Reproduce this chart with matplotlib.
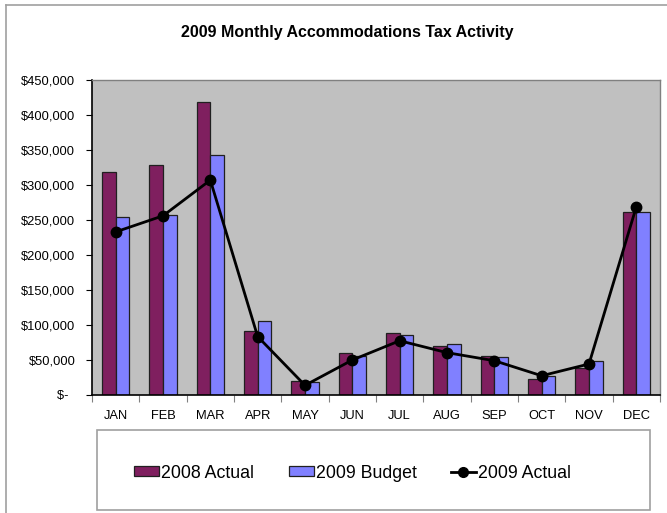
import matplotlib
matplotlib.use("Agg")
import matplotlib.pyplot as plt
import numpy as np
from matplotlib.patches import Rectangle, Patch
from matplotlib.lines import Line2D
from matplotlib.ticker import FuncFormatter, FixedLocator

plt.rcParams['font.family'] = ['Liberation Sans', 'DejaVu Sans']

months = ["JAN", "FEB", "MAR", "APR", "MAY", "JUN",
          "JUL", "AUG", "SEP", "OCT", "NOV", "DEC"]
actual_2008 = [318000, 329000, 418000, 92000, 19500, 59500,
               88000, 70000, 56000, 23000, 39000, 261500]
budget_2009 = [254000, 257000, 343000, 106000, 18000, 55500,
               85500, 72500, 54000, 26500, 49000, 261500]
actual_2009 = [233000, 256000, 307000, 83500, 13800, 50000,
               77500, 60500, 49000, 27500, 44300, 269000]

W, H = 667, 513
fig = plt.figure(figsize=(W / 100, H / 100), dpi=100)
fig.patch.set_facecolor('white')

# outer chart border (left and top edges only show)
border = '#a0a0a0'
fig.add_artist(Line2D([6 / W, 6 / W], [0, 1 - 5 / H], color=border, lw=1.2,
                      transform=fig.transFigure))
fig.add_artist(Line2D([6 / W, 1], [1 - 5 / H, 1 - 5 / H], color=border, lw=1.2,
                      transform=fig.transFigure))

ax = fig.add_axes([92 / W, 1 - 395 / H, (660 - 92) / W, (395 - 80) / H])
ax.set_facecolor('#c0c0c0')

x = np.arange(len(months))
w = 0.29
ax.bar(x - w / 2, actual_2008, width=w, color='#7f1f5f', edgecolor='#202020',
       linewidth=0.9, zorder=2)
ax.bar(x + w / 2, budget_2009, width=w, color='#8080ff', edgecolor='#202020',
       linewidth=0.9, zorder=2)
ax.plot(x, actual_2009, color='black', lw=2, marker='o', markersize=7.5,
        zorder=3)

ax.set_xlim(-0.5, len(months) - 0.5)
ax.set_ylim(0, 450000)
ax.set_yticks(np.arange(0, 450001, 50000))


def money(v, pos):
    if v == 0:
        return '$-  '
    return '${:,.0f}'.format(v)


ax.yaxis.set_major_formatter(FuncFormatter(money))
ax.set_xticks(x)
ax.set_xticklabels(months)
ax.xaxis.set_minor_locator(FixedLocator(np.arange(-0.5, len(months), 1.0)))
ax.tick_params(axis='x', which='major', length=0, pad=10.5, labelsize=9.3)
ax.tick_params(axis='x', which='minor', length=5, color='#808080', width=0.8)
ax.tick_params(axis='y', length=4, width=0.8, pad=8, labelsize=9.3)

for side in ['top', 'right']:
    ax.spines[side].set_color('#808080')
    ax.spines[side].set_linewidth(1)
for side in ['left', 'bottom']:
    ax.spines[side].set_color('black')
    ax.spines[side].set_linewidth(1.2)

fig.text(347 / W, 1 - 32 / H, '2009 Monthly Accommodations Tax Activity',
         ha='center', va='center', fontsize=11.5, fontweight='bold')

# legend box with three evenly laid out entries
fig.add_artist(Rectangle((97 / W, 1 - 510 / H), (650 - 97) / W, 80 / H,
                         transform=fig.transFigure, facecolor='white',
                         edgecolor=border, lw=1.2))
handles = [
    Patch(facecolor='#7f1f5f', edgecolor='#202020', linewidth=0.9,
          label='2008 Actual'),
    Patch(facecolor='#8080ff', edgecolor='#202020', linewidth=0.9,
          label='2009 Budget'),
    Line2D([], [], color='black', lw=2, marker='o', markersize=7,
           label='2009 Actual'),
]
starts = [134, 289, 451]
for h, sx in zip(handles, starts):
    fig.legend(handles=[h], loc='center left',
               bbox_to_anchor=(sx / W, 1 - 473 / H), frameon=False,
               borderpad=0, borderaxespad=0, handlelength=1.4,
               handleheight=0.5, handletextpad=0.1, fontsize=12.8)

fig.savefig('out.png', dpi=100)
